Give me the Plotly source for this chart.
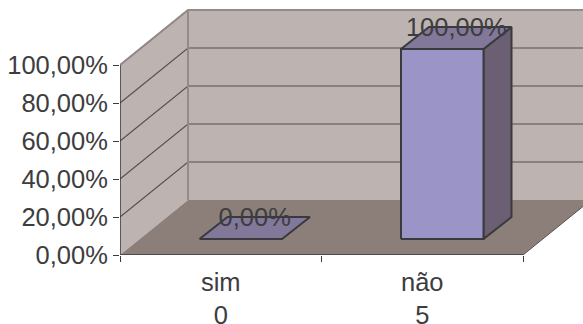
import plotly.graph_objects as go

# Survey result: share of answers per option, with the raw count under each label
categories = ["sim", "não"]
percentages = [0, 100]
counts = [0, 5]
y_ticks = [0, 20, 40, 60, 80, 100]
y_tick_labels = ["0,00%", "20,00%", "40,00%", "60,00%", "80,00%", "100,00%"]

# Oblique projection of the fake 3D box, in axis units
DEPTH_X = 68 / 201.5
DEPTH_Y = 55 / 1.9
BAR_WIDTH = 82.5 / 201.5
BAR_OFFSET_X = 20 / 201.5
BAR_OFFSET_Y = 16 / 1.9
BAR_DEPTH_X = 28 / 201.5
BAR_DEPTH_Y = 22 / 1.9
LABEL_DROP = 1.5
X_MAX = 2 + 60 / 201.5 + 0.02
Y_MAX = 255 / 1.9
FONT_SIZE = 25.5

WALL = "#BDB3B0"
FLOOR = "#8C7F7A"
EDGE = "#958A87"
GRID = "#55504F"
INK = "#3A3A3C"
BAR_FRONT = "#9B94C6"
BAR_TOP = "#82789A"
BAR_SIDE = "#6B5F74"
TEXT = "#3D3D40"

fig = go.Figure()


def polygon(xs, ys, fill, line=None, width=0):
    fig.add_trace(go.Scatter(
        x=xs + xs[:1], y=ys + ys[:1], mode="lines", fill="toself", fillcolor=fill,
        line=dict(color=line or fill, width=width), hoverinfo="skip", showlegend=False,
    ))


def segment(xs, ys, color, width):
    fig.add_trace(go.Scatter(
        x=xs, y=ys, mode="lines", line=dict(color=color, width=width),
        hoverinfo="skip", showlegend=False,
    ))


# Back wall, side wall and floor
polygon([DEPTH_X, X_MAX, X_MAX, DEPTH_X], [DEPTH_Y, DEPTH_Y, 100 + DEPTH_Y, 100 + DEPTH_Y], WALL)
polygon([0, DEPTH_X, DEPTH_X, 0], [0, DEPTH_Y, 100 + DEPTH_Y, 100], WALL)
polygon([0, 2, 2 + DEPTH_X, DEPTH_X], [0, 0, DEPTH_Y, DEPTH_Y], FLOOR)

# Gridlines wrap around the side wall and the back wall
for tick in y_ticks[1:]:
    segment([0, DEPTH_X, X_MAX], [tick, tick + DEPTH_Y, tick + DEPTH_Y], GRID, 1.2)

# Box edges
segment([0, DEPTH_X, X_MAX], [100, 100 + DEPTH_Y, 100 + DEPTH_Y], EDGE, 2)
segment([DEPTH_X, DEPTH_X], [DEPTH_Y, 100 + DEPTH_Y], EDGE, 2)
segment([2, 2 + DEPTH_X], [0, DEPTH_Y], "#5A5250", 1)

# Axis lines stop at the data area
segment([0, 2], [0, 0], INK, 1.5)
segment([0, 0], [0, 100], INK, 1.5)

# Bars: side, top, then front so the front face stays on top
for i, value in enumerate(percentages):
    x0 = i + 0.5 - BAR_WIDTH / 2 + BAR_OFFSET_X
    x1 = x0 + BAR_WIDTH
    y0 = BAR_OFFSET_Y
    y1 = y0 + value
    dx, dy = BAR_DEPTH_X, BAR_DEPTH_Y
    if value > 0:
        polygon([x1, x1 + dx, x1 + dx, x1], [y0, y0 + dy, y1 + dy, y1], BAR_SIDE, INK, 2)
    polygon([x0, x1, x1 + dx, x0 + dx], [y1, y1, y1 + dy, y1 + dy], BAR_TOP, INK, 2)
    if value > 0:
        polygon([x0, x1, x1, x0], [y0, y0, y1, y1], BAR_FRONT, INK, 2)

# Value labels sit over the top face of each bar
fig.add_trace(go.Scatter(
    x=[i + 0.5 + BAR_OFFSET_X + BAR_DEPTH_X / 2 for i in range(len(percentages))],
    y=[v + BAR_OFFSET_Y + BAR_DEPTH_Y - LABEL_DROP for v in percentages],
    mode="text",
    text=[f"{v:.2f}".replace(".", ",") + "%" for v in percentages],
    textposition="middle center",
    textfont=dict(family="Liberation Sans", size=FONT_SIZE, color=TEXT),
    hoverinfo="skip", showlegend=False, cliponaxis=False,
))

fig.update_layout(
    width=583, height=324, autosize=False,
    margin=dict(l=120, r=0, t=0, b=69),
    paper_bgcolor="white", plot_bgcolor="white",
    font=dict(family="Liberation Sans", size=FONT_SIZE, color=TEXT),
    xaxis=dict(
        range=[0, X_MAX - 0.02], showgrid=False, zeroline=False, showline=False,
        automargin=False,
        tickmode="array",
        tickvals=[i + 0.5 for i in range(len(categories))],
        ticktext=[f"{c}<br>{n}" for c, n in zip(categories, counts)],
        ticks="", ticklabelstandoff=9,
        minor=dict(tickmode="array", tickvals=[0, 1, 2], ticks="outside", ticklen=6,
                   tickcolor=INK, tickwidth=1, showgrid=False),
    ),
    yaxis=dict(
        range=[0, Y_MAX], showgrid=False, zeroline=False, showline=False,
        automargin=False,
        tickmode="array", tickvals=y_ticks, ticktext=y_tick_labels,
        ticks="outside", ticklen=6, tickcolor=INK, tickwidth=1,
    ),
)

fig.write_html("out.html")
